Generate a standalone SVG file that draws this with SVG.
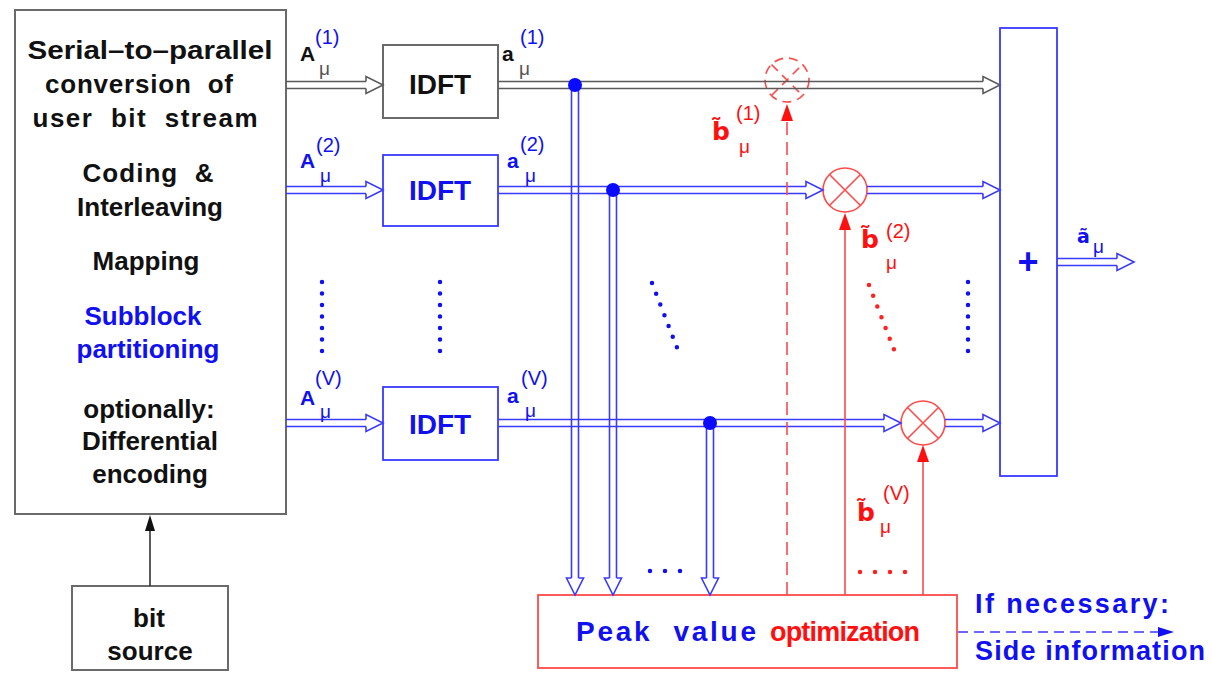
<svg xmlns="http://www.w3.org/2000/svg" xmlns:xlink="http://www.w3.org/1999/xlink" width="1212" height="674" viewBox="0 0 1212 674">
<style>
text{font-family:"Liberation Sans",Arial,sans-serif}
.t{font-size:26px;font-weight:bold;text-anchor:middle}
.k{fill:#111}
.bl{fill:#1010f0}
.rd{fill:#ff1010}
.sup{font-size:20px;font-weight:normal}
.mu{font-size:19px;font-weight:normal}
.lb{font-size:21px;font-weight:bold}
.tl{font-family:"DejaVu Sans","Liberation Sans",sans-serif;font-weight:bold}
.gl{stroke:#5a5a5a;stroke-width:1.6;fill:none}
.bll{stroke:#3a3aff;stroke-width:1.6;fill:none}
.rl{stroke:#ff4a4a;stroke-width:1.6;fill:none}
.ahg{stroke:#5a5a5a;stroke-width:1.6;fill:#fff}
.ahb{stroke:#3a3aff;stroke-width:1.6;fill:#fff}
.box-g{fill:#fff;stroke:#6a6a6a;stroke-width:2}
.box-b{fill:#fff;stroke:#3a3aff;stroke-width:1.8}
.box-r{fill:#fff;stroke:#ff4a4a;stroke-width:1.8}
.dotb{stroke:#1010f0;stroke-width:4.5;stroke-linecap:round;stroke-dasharray:0 11.5;fill:none}
.dotr{stroke:#ff2020;stroke-width:4.5;stroke-linecap:round;stroke-dasharray:0 11.5;fill:none}
</style>
<defs>
<path id="ah" d="M-17,-3.5V-8.5L0,0L-17,8.5V3.5"/>
<path id="fa" d="M0,0L-6,17H6Z"/>
<g id="mul">
<circle r="22"/>
<path d="M-15.5,-15.5L15.5,15.5M-15.5,15.5L15.5,-15.5"/>
</g>
</defs>

<g id="n-s2p">
<rect class="box-g" x="15" y="10" width="271" height="504"/>
<text class="t k" x="150" y="59" textLength="245" lengthAdjust="spacingAndGlyphs">Serial–to–parallel</text>
<text class="t k" x="139" y="93" textLength="188" lengthAdjust="spacing" xml:space="preserve">conversion  of</text>
<text class="t k" x="145" y="127" textLength="225" lengthAdjust="spacing" xml:space="preserve">user  bit  stream</text>
<text class="t k" x="148" y="182" textLength="131" lengthAdjust="spacing" xml:space="preserve">Coding  &amp;</text>
<text class="t k" x="150" y="216">Interleaving</text>
<text class="t k" x="146" y="270">Mapping</text>
<text class="t bl" x="143" y="325">Subblock</text>
<text class="t bl" x="148" y="358">partitioning</text>
<text class="t k" x="149" y="418">optionally:</text>
<text class="t k" x="150" y="450">Differential</text>
<text class="t k" x="150" y="483">encoding</text>
</g>

<g id="n-bitsource">
<rect class="box-g" x="72" y="586" width="156" height="84"/>
<text class="t k" x="149" y="627">bit</text>
<text class="t k" x="150" y="660">source</text>
</g>

<g id="n-idft1">
<rect class="box-g" x="383" y="45" width="115" height="73"/>
<text class="t k" x="440" y="94" style="font-size:28px">IDFT</text>
</g>
<g id="n-idft2">
<rect class="box-b" x="383" y="155" width="115" height="71"/>
<text class="t bl" x="440" y="200" style="font-size:28px">IDFT</text>
</g>
<g id="n-idftv">
<rect class="box-b" x="383" y="387" width="115" height="73"/>
<text class="t bl" x="440" y="434" style="font-size:28px">IDFT</text>
</g>

<g id="n-sum">
<rect class="box-b" x="1000" y="28" width="57" height="448"/>
<text class="bl" x="1028" y="274" style="font-size:36px;font-weight:bold;text-anchor:middle">+</text>
</g>

<g id="n-peak">
<rect class="box-r" x="538" y="595" width="419" height="73"/>
<text class="bl" x="576" y="641" style="font-size:28px;font-weight:bold" textLength="180" lengthAdjust="spacing" xml:space="preserve">Peak  value</text>
<text class="rd" x="770" y="641" style="font-size:27px;font-weight:bold" textLength="150" lengthAdjust="spacing">optimization</text>
</g>

<g id="n-mul1" class="rl" style="stroke-dasharray:9 6">
<use xlink:href="#mul" transform="translate(787,80)"/>
</g>
<g id="n-mul2" class="rl">
<use xlink:href="#mul" transform="translate(845,190)"/>
</g>
<g id="n-mulv" class="rl">
<use xlink:href="#mul" transform="translate(923,423)"/>
</g>

<g id="connectors">
<path class="gl" d="M286,81.5H367M286,88.5H367"/>
<use xlink:href="#ah" class="ahg" transform="translate(383,85)"/>
<path class="gl" d="M498,81.5H984M498,88.5H984"/>
<use xlink:href="#ah" class="ahg" transform="translate(1000,85)"/>
<path class="bll" d="M286,186.5H367M286,193.5H367"/>
<use xlink:href="#ah" class="ahb" transform="translate(383,190)"/>
<path class="bll" d="M498,186.5H806M498,193.5H806"/>
<use xlink:href="#ah" class="ahb" transform="translate(823,190)"/>
<path class="bll" d="M867,186.5H984M867,193.5H984"/>
<use xlink:href="#ah" class="ahb" transform="translate(1000,190)"/>
<path class="bll" d="M286,419.5H367M286,426.5H367"/>
<use xlink:href="#ah" class="ahb" transform="translate(383,423)"/>
<path class="bll" d="M498,419.5H885M498,426.5H885"/>
<use xlink:href="#ah" class="ahb" transform="translate(901,423)"/>
<path class="bll" d="M945,419.5H984M945,426.5H984"/>
<use xlink:href="#ah" class="ahb" transform="translate(1000,423)"/>
<path class="bll" d="M1057,258.5H1117M1057,265.5H1117"/>
<use xlink:href="#ah" class="ahb" transform="translate(1134,262)"/>
<path class="bll" d="M571.5,85V579M578.5,85V579"/>
<use xlink:href="#ah" class="ahb" transform="translate(575,595) rotate(90)"/>
<path class="bll" d="M609.5,190V579M616.5,190V579"/>
<use xlink:href="#ah" class="ahb" transform="translate(613,595) rotate(90)"/>
<path class="bll" d="M706.5,423V579M713.5,423V579"/>
<use xlink:href="#ah" class="ahb" transform="translate(710,595) rotate(90)"/>
<circle cx="575" cy="85" r="7" fill="#0a0aff"/>
<circle cx="613" cy="190" r="7" fill="#0a0aff"/>
<circle cx="710" cy="423" r="7" fill="#0a0aff"/>
<path class="rl" d="M787,595V118" style="stroke-dasharray:13 7"/>
<use xlink:href="#fa" fill="#ff1010" transform="translate(787,104)"/>
<path class="rl" d="M845,595V228"/>
<use xlink:href="#fa" fill="#ff1010" transform="translate(845,213)"/>
<path class="rl" d="M923,595V460"/>
<use xlink:href="#fa" fill="#ff1010" transform="translate(923,445)"/>
<path class="bll" d="M958,632H1160" style="stroke-dasharray:10 6"/>
<path d="M1174,632L1158,627V637Z" fill="#1010f0"/>
<path class="gl" style="stroke:#333" d="M150,586V528"/>
<path d="M150,515L145,531H155Z" fill="#111"/>
</g>

<g id="labels">
<text class="lb k" x="300" y="61">A</text>
<text class="sup bl" x="315" y="44">(1)</text>
<text class="mu" x="319" y="75" fill="#555">μ</text>
<text class="lb bl" x="300" y="168">A</text>
<text class="sup bl" x="316" y="152">(2)</text>
<text class="mu bl" x="320" y="182">μ</text>
<text class="lb bl" x="300" y="405">A</text>
<text class="sup bl" x="315" y="385">(V)</text>
<text class="mu bl" x="320" y="418">μ</text>

<text class="lb k" x="502" y="61">a</text>
<text class="sup bl" x="520" y="44">(1)</text>
<text class="mu" x="519" y="75" fill="#555">μ</text>
<text class="lb bl" x="507" y="168">a</text>
<text class="sup bl" x="520" y="151">(2)</text>
<text class="mu bl" x="525" y="182">μ</text>
<text class="lb bl" x="507" y="403">a</text>
<text class="sup bl" x="521" y="385">(V)</text>
<text class="mu bl" x="525" y="417">μ</text>

<text class="tl rd" x="712" y="140" style="font-size:25px">b̃</text>
<text class="sup rd" x="736" y="120">(1)</text>
<text class="mu rd" x="739" y="153">μ</text>

<text class="tl rd" x="861" y="248" style="font-size:25px">b̃</text>
<text class="sup rd" x="886" y="238">(2)</text>
<text class="mu rd" x="886" y="269">μ</text>

<text class="tl rd" x="857" y="521" style="font-size:25px">b̃</text>
<text class="sup rd" x="883" y="500">(V)</text>
<text class="mu rd" x="880" y="533">μ</text>

<text class="tl bl" x="1077" y="243" style="font-size:19px">ã</text>
<text class="mu bl" x="1093" y="253">μ</text>

<text class="bl" x="975" y="613" style="font-size:27px;font-weight:bold" textLength="194" lengthAdjust="spacing">If necessary:</text>
<text class="bl" x="975" y="660" style="font-size:27px;font-weight:bold" textLength="230" lengthAdjust="spacing">Side information</text>
</g>

<g id="ellipses">
<path class="dotb" d="M322,282V360"/>
<path class="dotb" d="M440,282V360"/>
<path class="dotb" d="M652,283L681,358"/>
<path class="dotr" d="M869,285L898,360"/>
<path class="dotb" d="M968,282V360"/>
<path class="dotb" d="M650,571H682" style="stroke-dasharray:0 15"/>
<path class="dotr" d="M860,572H907" style="stroke-dasharray:0 15"/>
</g>
</svg>
